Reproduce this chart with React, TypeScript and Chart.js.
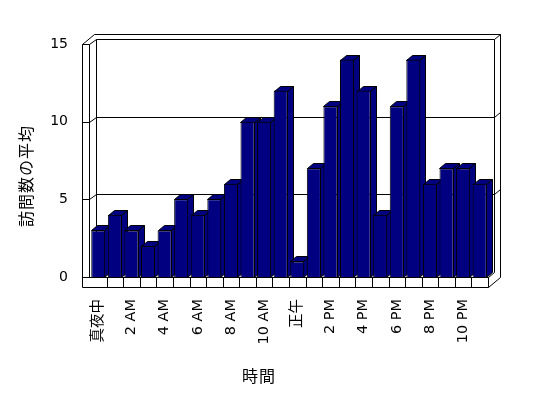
import React, { useEffect, useRef } from 'react';
import { Chart, registerables } from 'chart.js';

Chart.register(...registerables);

const hourLabels = [
  '真夜中', '1 AM', '2 AM', '3 AM', '4 AM', '5 AM', '6 AM', '7 AM', '8 AM', '9 AM', '10 AM', '11 AM',
  '正午', '1 PM', '2 PM', '3 PM', '4 PM', '5 PM', '6 PM', '7 PM', '8 PM', '9 PM', '10 PM', '11 PM',
];
const avgVisits = [3, 4, 3, 2, 3, 5, 4, 5, 6, 10, 10, 12, 1, 7, 11, 14, 12, 4, 11, 14, 6, 7, 7, 6];
const yTickValues = [0, 5, 10, 15];
const xTitle = '時間';
const yTitle = '訪問数の平均';

const TICK_FONT = '"DejaVu Sans", "Noto Sans CJK JP", sans-serif';
const TITLE_FONT = '"Noto Sans CJK JP", sans-serif';
const NAVY = '#000080';

export default function App() {
  const ref = useRef<HTMLCanvasElement>(null);

  useEffect(() => {
    const canvas = ref.current;
    if (!canvas) return;
    const D = { x: 6, y: -5 };
    const yMax = yTickValues[yTickValues.length - 1];

    const frame = {
      id: 'frame3d',
      beforeDatasetsDraw(chart: any) {
        const ctx = chart.ctx as CanvasRenderingContext2D;
        const xs = chart.scales.x;
        const ys = chart.scales.y;
        const L = xs.left;
        const R = xs.right;
        const y0 = ys.getPixelForValue(0);
        const yTop = ys.getPixelForValue(yMax);
        ctx.save();
        ctx.strokeStyle = '#000';
        ctx.lineWidth = 1;
        const seg = (x1: number, y1: number, x2: number, y2: number) => {
          ctx.beginPath();
          ctx.moveTo(Math.round(x1) + 0.5, Math.round(y1) + 0.5);
          ctx.lineTo(Math.round(x2) + 0.5, Math.round(y2) + 0.5);
          ctx.stroke();
        };
        const bl = L + D.x;
        const br = R + D.x;
        // back wall edges
        seg(bl, yTop + D.y, bl, y0 + D.y);
        seg(br, yTop + D.y, br, y0 + D.y);
        yTickValues.forEach((v) => {
          const y = ys.getPixelForValue(v);
          if (v > 0) {
            seg(bl, y + D.y, br, y + D.y);
            seg(L - 1, y, bl, y + D.y);
            seg(br, y + D.y, br + D.x, y + 2 * D.y);
          }
          seg(L - 8, y, L - 1, y);
        });
        // left wall slab
        seg(L - 8, yTop, L - 8, y0 + 10);
        seg(L - 1, yTop, L - 1, y0);
        seg(L - 8, yTop, L - 8 + 2 * D.x, yTop + 2 * D.y);
        seg(L - 8 + 2 * D.x, yTop + 2 * D.y, br + D.x, yTop + 2 * D.y);
        // right wall outer
        seg(br + D.x, yTop + 2 * D.y, br + D.x, y0);
        // floor
        seg(R, y0, br, y0 + D.y);
        seg(L - 8, y0, R, y0);
        seg(L - 8, y0 + 10, R, y0 + 10);
        seg(R, y0, R, y0 + 10);
        const n = hourLabels.length;
        for (let i = 1; i < n; i++) {
          const x = L + (i * (R - L)) / n;
          seg(x, y0, x, y0 + 10);
        }
        seg(R, y0 + 10, R + 2 * D.x, y0 + 10 + 2 * D.y);

        // bar depth faces
        const meta = chart.getDatasetMeta(0);
        ctx.fillStyle = NAVY;
        meta.data.forEach((el: any) => {
          const { x, y, base, width } = el.getProps(['x', 'y', 'base', 'width'], true);
          const l = Math.round(x - width / 2) + 0.5;
          const r = Math.round(x + width / 2) - 0.5;
          const t = Math.round(y) + 0.5;
          const b = Math.round(base) + 0.5;
          ctx.beginPath();
          ctx.moveTo(r, t);
          ctx.lineTo(r + D.x, t + D.y);
          ctx.lineTo(r + D.x, b + D.y);
          ctx.lineTo(r, b);
          ctx.closePath();
          ctx.fill();
          ctx.stroke();
          ctx.beginPath();
          ctx.moveTo(l, t);
          ctx.lineTo(r, t);
          ctx.lineTo(r + D.x, t + D.y);
          ctx.lineTo(l + D.x, t + D.y);
          ctx.closePath();
          ctx.fill();
          ctx.stroke();
        });
        ctx.restore();
      },
      afterDraw(chart: any) {
        const ctx = chart.ctx as CanvasRenderingContext2D;
        ctx.save();
        ctx.fillStyle = '#000';
        ctx.font = `16px ${TITLE_FONT}`;
        (ctx as any).letterSpacing = '1px';
        ctx.textAlign = 'center';
        ctx.textBaseline = 'middle';
        ctx.fillText(xTitle, 259, 376);
        ctx.translate(26, 176);
        ctx.rotate(-Math.PI / 2);
        ctx.fillText(yTitle, 0, 0);
        ctx.restore();
      },
    };

    const chart = new Chart(canvas, {
      type: 'bar',
      data: {
        labels: hourLabels,
        datasets: [
          {
            data: avgVisits,
            backgroundColor: NAVY,
            borderColor: '#000',
            borderWidth: 1,
            barPercentage: 0.85,
            categoryPercentage: 1,
          },
        ],
      },
      options: {
        animation: false,
        responsive: false,
        devicePixelRatio: 1,
        layout: { padding: { top: 44, right: 60, bottom: 0, left: 0 } },
        plugins: { legend: { display: false }, tooltip: { enabled: false } },
        scales: {
          x: {
            grid: { display: false, drawTicks: false },
            border: { display: false },
            afterFit: (s: any) => {
              s.height = 121;
            },
            ticks: {
              autoSkip: false,
              maxRotation: 90,
              minRotation: 90,
              padding: 22,
              color: '#000',
              font: { family: TICK_FONT, size: 14.5 },
              callback: (_v: any, i: number) => (i % 2 === 0 ? hourLabels[i] : ''),
            },
          },
          y: {
            min: 0,
            max: yMax,
            grid: { display: false, drawTicks: false },
            border: { display: false },
            afterFit: (s: any) => {
              s.width = 90;
            },
            afterBuildTicks: (s: any) => {
              s.ticks = yTickValues.map((v) => ({ value: v }));
            },
            ticks: {
              padding: 22,
              color: '#000',
              font: { family: TICK_FONT, size: 14 },
            },
          },
        },
      },
      plugins: [frame],
    } as any);

    return () => chart.destroy();
  }, []);

  return (
    <div style={{ position: 'absolute', left: 0, top: 0, width: 548, height: 398, background: '#fff' }}>
      <canvas ref={ref} width={548} height={398} style={{ display: 'block' }} />
    </div>
  );
}
